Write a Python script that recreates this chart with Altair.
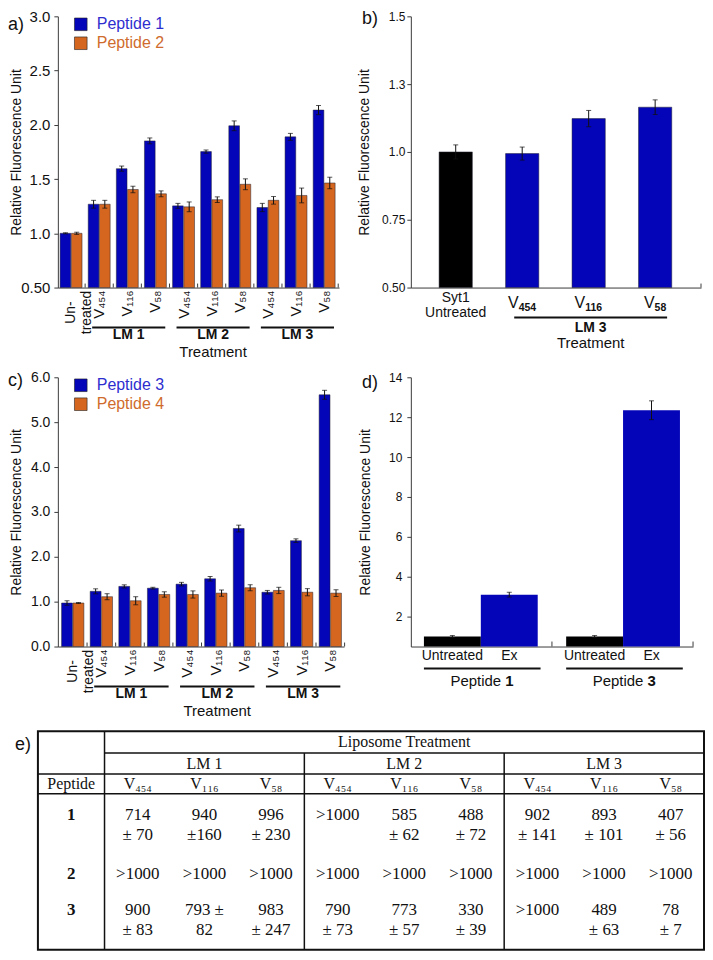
import altair as alt
import pandas as pd

SANS = "Liberation Sans"
SERIF = "Liberation Serif"
BLUE = "#0404b8"
ORANGE = "#d4661f"
BLUE_TXT = "#2e2ecf"
ORANGE_TXT = "#cf6b2d"
BLACK = "#000000"
INK = "#111111"
AXIS = "#3a3a3a"
BAR_EDGE = "#202030"

# ------------------------------------------------------------------ data
# x categories shared by panels a and c
treat_labels = ["Un-\ntreated", "V₄₅₄", "V₁₁₆", "V₅₈", "V₄₅₄", "V₁₁₆", "V₅₈", "V₄₅₄", "V₁₁₆", "V₅₈"]
treat_group = ["", "LM 1", "LM 1", "LM 1", "LM 2", "LM 2", "LM 2", "LM 3", "LM 3", "LM 3"]
lm_groups = ["LM 1", "LM 2", "LM 3"]

# panel a
a_series = ["Peptide 1", "Peptide 2"]
a_pep1 = [1.00, 1.268, 1.596, 1.852, 1.253, 1.753, 1.991, 1.238, 1.889, 2.136]
a_pep1_err = [0.005, 0.036, 0.024, 0.027, 0.023, 0.015, 0.045, 0.038, 0.032, 0.042]
a_pep2 = [1.00, 1.268, 1.404, 1.364, 1.244, 1.310, 1.452, 1.304, 1.349, 1.464]
a_pep2_err = [0.010, 0.036, 0.030, 0.027, 0.045, 0.026, 0.050, 0.035, 0.068, 0.053]
a_ticks = [0.5, 1.0, 1.5, 2.0, 2.5, 3.0]

# panel b
b_labels = ["Syt1\nUntreated", "V", "V", "V"]
b_subs = ["", "454", "116", "58"]
b_kind = ["Syt1", "LM 3", "LM 3", "LM 3"]
b_values = [1.000, 0.994, 1.123, 1.165]
b_errors = [0.026, 0.024, 0.030, 0.027]
b_ticks = [0.5, 0.75, 1.0, 1.25, 1.5]

# panel c
c_series = ["Peptide 3", "Peptide 4"]
c_pep3 = [0.97, 1.23, 1.34, 1.30, 1.39, 1.51, 2.63, 1.21, 2.36, 5.61]
c_pep3_err = [0.05, 0.056, 0.035, 0.02, 0.04, 0.05, 0.075, 0.04, 0.04, 0.10]
c_pep4 = [0.97, 1.11, 1.02, 1.16, 1.16, 1.19, 1.31, 1.25, 1.21, 1.19]
c_pep4_err = [0.01, 0.067, 0.09, 0.06, 0.08, 0.07, 0.067, 0.07, 0.08, 0.075]
c_ticks = [0, 1, 2, 3, 4, 5, 6]

# panel d
d_peptides = ["1", "3"]
d_conditions = ["Untreated", "Ex"]
d_values = [[1.0, 3.1], [1.0, 12.35]]
d_errors = [[0.05, 0.12], [0.05, 0.47]]
d_ticks = [2, 4, 6, 8, 10, 12, 14]

# table e
t_header = "Liposome Treatment"
t_row_title = "Peptide"
t_columns = ["V₄₅₄", "V₁₁₆", "V₅₈"] * 3
t_peptides = ["1", "2", "3"]
t_line1 = [["714", "940", "996", ">1000", "585", "488", "902", "893", "407"],
           [">1000"] * 9,
           ["900", "793 ±", "983", "790", "773", "330", ">1000", "489", "78"]]
t_line2 = [["± 70", "±160", "± 230", "", "± 62", "± 72", "± 141", "± 101", "± 56"],
           [""] * 9,
           ["± 83", "82", "± 247", "± 73", "± 57", "± 39", "", "± 63", "± 7"]]

ONE = pd.DataFrame({"k": [0]})

X_AXIS = alt.Axis(labels=False, ticks=False, title=None, grid=False, domainColor=AXIS)


def y_axis(values, fmt, title_x, label_size, label_pad):
    return alt.Axis(values=values, format=fmt, title="Relative Fluorescence Unit", titleX=title_x,
                    titleBaseline="middle", titleFontSize=14, titleFontWeight="normal", titleColor=INK,
                    labelFontSize=label_size, labelColor=INK, labelPadding=label_pad, tickSize=4,
                    tickColor=AXIS, domainColor=AXIS, grid=False)


def txt(text, x, y, size, **kw):
    props = dict(text=text, align="left", baseline="middle", fontSize=size, font=SANS, color=INK)
    props.update(kw)
    return alt.Chart(ONE).mark_text(**props).encode(x=alt.value(x), y=alt.value(y))


def legend(names, colors, tcolors, y0):
    out = []
    for k, (n, c, tc) in enumerate(zip(names, colors, tcolors)):
        y = y0 + 19 * k
        out.append(alt.Chart(ONE).mark_square(size=160, color=c, stroke="#222", strokeWidth=0.6,
                                              opacity=1).encode(x=alt.value(23), y=alt.value(y)))
        out.append(txt(n, 39, y, 16, color=tc))
    return out


def err_layers(df, X, Y):
    return [
        alt.Chart(df).mark_rule(color=INK, strokeWidth=1).encode(x=X("xc:Q"), y=Y("lo:Q"), y2="hi:Q"),
        alt.Chart(df).mark_tick(orient="horizontal", size=5, thickness=1, color=INK).encode(x=X("xc:Q"), y=Y("lo:Q")),
        alt.Chart(df).mark_tick(orient="horizontal", size=5, thickness=1, color=INK).encode(x=X("xc:Q"), y=Y("hi:Q")),
    ]


def grouped_panel(tag, tag_y, names, v1, e1, v2, e2, ydom, yvals, yfmt, ylab, ypad, title_x, xdom, H):
    n = len(v1)
    rows = []
    for i in range(n):
        for k, (vals, errs) in enumerate(((v1, e1), (v2, e2))):
            x0 = i - 0.39 if k == 0 else i + 0.01
            rows.append({"s": names[k], "col": [BLUE, ORANGE][k], "x0": x0, "x1": x0 + 0.38, "xc": x0 + 0.19,
                         "v": vals[i], "lo": vals[i] - errs[i], "hi": vals[i] + errs[i]})
    df = pd.DataFrame(rows)
    xs = alt.Scale(domain=xdom, nice=False, zero=False)
    ys = alt.Scale(domain=ydom, nice=False, zero=False)
    yax = y_axis(yvals, yfmt, title_x, ylab, ypad)

    def X(f):
        return alt.X(f, scale=xs, axis=X_AXIS)

    def Y(f):
        return alt.Y(f, scale=ys, axis=yax)

    layers = [alt.Chart(df).mark_bar(stroke=BAR_EDGE, strokeWidth=0.5).encode(
        x=X("x0:Q"), x2="x1:Q", y=Y("v:Q"), y2=alt.datum(ydom[0]),
        color=alt.Color("col:N", scale=None))]
    layers += err_layers(df, X, Y)
    tdf = pd.DataFrame({"t": [i + 0.5 for i in range(n)]})
    layers.append(alt.Chart(tdf).mark_rule(color=AXIS).encode(x=X("t:Q"), y=alt.value(H - 4), y2=alt.value(H)))
    ldf = pd.DataFrame({"i": list(range(1, n)), "t": treat_labels[1:]})
    layers.append(alt.Chart(ldf).mark_text(angle=270, align="right", baseline="middle", fontSize=15,
                                           font=SANS, color=INK).encode(x=X("i:Q"), y=alt.value(H + 3), text="t:N"))
    udf = pd.DataFrame({"i": [0], "t": [treat_labels[0]]})
    layers.append(alt.Chart(udf).mark_text(angle=270, align="center", baseline="middle", fontSize=14,
                                           lineBreak="\n", lineHeight=16, font=SANS, color=INK).encode(
        x=X("i:Q"), y=alt.value(H + 25), text="t:N"))
    s0 = [min(i for i in range(n) if treat_group[i] == g) - 0.25 for g in lm_groups]
    s1 = [max(i for i in range(n) if treat_group[i] == g) + 0.35 for g in lm_groups]
    gdf = pd.DataFrame({"name": lm_groups, "s0": s0, "s1": s1})
    gdf["m"] = (gdf["s0"] + gdf["s1"]) / 2
    layers.append(alt.Chart(gdf).mark_rule(color=INK, strokeWidth=2).encode(
        x=X("s0:Q"), x2="s1:Q", y=alt.value(H + 40)))
    layers.append(alt.Chart(gdf).mark_text(fontSize=14, fontWeight="bold", font=SANS, color=INK,
                                           baseline="middle").encode(x=X("m:Q"), y=alt.value(H + 48), text="name:N"))
    trt = pd.DataFrame({"m": [(min(s0) + max(s1)) / 2], "t": ["Treatment"]})
    layers.append(alt.Chart(trt).mark_text(fontSize=15, font=SANS, color=INK, baseline="middle").encode(
        x=X("m:Q"), y=alt.value(H + 65), text="t:N"))
    layers += legend(names, [BLUE, ORANGE], [BLUE_TXT, ORANGE_TXT], 8)
    layers.append(txt(tag, -50, tag_y, 18))
    return alt.layer(*layers)


def panel_b(W=291, H=272):
    n = len(b_values)
    df = pd.DataFrame({"i": list(range(n)), "k": b_kind, "v": b_values})
    df["col"] = [BLACK if k == "Syt1" else BLUE for k in b_kind]
    df["x0"] = df["i"] - 0.25
    df["x1"] = df["i"] + 0.25
    df["xc"] = df["i"]
    df["lo"] = [v - e for v, e in zip(b_values, b_errors)]
    df["hi"] = [v + e for v, e in zip(b_values, b_errors)]
    xdom = [-0.675, 3.69]
    xs = alt.Scale(domain=xdom, nice=False, zero=False)
    ys = alt.Scale(domain=[0.5, 1.5], nice=False, zero=False)
    yax = y_axis(b_ticks, ".2r", -46, 12, 2)

    def X(f):
        return alt.X(f, scale=xs, axis=X_AXIS)

    def Y(f):
        return alt.Y(f, scale=ys, axis=yax)

    layers = [alt.Chart(df).mark_bar(stroke=BAR_EDGE, strokeWidth=0.5).encode(
        x=X("x0:Q"), x2="x1:Q", y=Y("v:Q"), y2=alt.datum(0.5), color=alt.Color("col:N", scale=None))]
    layers += err_layers(df, X, Y)
    layers.append(alt.Chart(pd.DataFrame({"t": [xdom[1]]})).mark_rule(color=AXIS).encode(
        x=X("t:Q"), y=alt.value(H - 4), y2=alt.value(H)))
    first = pd.DataFrame({"i": [0], "t": [b_labels[0]]})
    layers.append(alt.Chart(first).mark_text(baseline="top", fontSize=14, lineBreak="\n", lineHeight=16,
                                             font=SANS, color=INK).encode(x=X("i:Q"), y=alt.value(H + 3), text="t:N"))
    for i in range(1, n):
        dx = (10.7 - 5.9 * len(b_subs[i])) / 2
        one = pd.DataFrame({"i": [i], "v": [b_labels[i]], "s": [b_subs[i]]})
        layers.append(alt.Chart(one).mark_text(align="right", baseline="alphabetic", dx=dx, fontSize=16,
                                               font=SANS, color=INK).encode(x=X("i:Q"), y=alt.value(H + 21), text="v:N"))
        layers.append(alt.Chart(one).mark_text(align="left", baseline="alphabetic", dx=dx, fontSize=10.5,
                                               fontWeight="bold", font=SANS, color=INK).encode(
            x=X("i:Q"), y=alt.value(H + 23.5), text="s:N"))
    grp = [i for i in range(n) if b_kind[i] == "LM 3"]
    gdf = pd.DataFrame({"s0": [min(grp) - 0.12], "s1": [max(grp) + 0.18], "name": ["LM 3"], "t": ["Treatment"]})
    gdf["m"] = (gdf["s0"] + gdf["s1"]) / 2
    layers.append(alt.Chart(gdf).mark_rule(color=INK, strokeWidth=2).encode(x=X("s0:Q"), x2="s1:Q", y=alt.value(H + 30)))
    layers.append(alt.Chart(gdf).mark_text(fontSize=14, fontWeight="bold", font=SANS, color=INK,
                                           baseline="middle").encode(x=X("m:Q"), y=alt.value(H + 41), text="name:N"))
    layers.append(alt.Chart(gdf).mark_text(fontSize=15, font=SANS, color=INK,
                                           baseline="middle").encode(x=X("m:Q"), y=alt.value(H + 56), text="t:N"))
    layers.append(txt("b)", -49, 3, 18))
    return alt.layer(*layers).properties(width=W, height=H)


def panel_d(W=283, H=270):
    rows = []
    for g, pep in enumerate(d_peptides):
        for j, cond in enumerate(d_conditions):
            p = g * 2.5 + j
            v, e = d_values[g][j], d_errors[g][j]
            rows.append({"pep": pep, "cond": cond, "col": [BLACK, BLUE][j], "xc": p, "x0": p - 0.5,
                         "x1": p + 0.5, "v": v, "lo": v - e, "hi": v + e})
    df = pd.DataFrame(rows)
    xdom = [-0.73, 4.23]
    xs = alt.Scale(domain=xdom, nice=False, zero=False)
    ys = alt.Scale(domain=[0.5, 14], nice=False, zero=False)
    yax = y_axis(d_ticks, "d", -45, 12, 5)

    def X(f):
        return alt.X(f, scale=xs, axis=X_AXIS)

    def Y(f):
        return alt.Y(f, scale=ys, axis=yax)

    layers = [alt.Chart(df).mark_bar().encode(
        x=X("x0:Q"), x2="x1:Q", y=Y("v:Q"), y2=alt.datum(0.5), color=alt.Color("col:N", scale=None))]
    layers += err_layers(df, X, Y)
    layers.append(alt.Chart(pd.DataFrame({"t": [1.75, xdom[1]]})).mark_rule(color=AXIS).encode(
        x=X("t:Q"), y=alt.value(H - 5), y2=alt.value(H)))
    layers.append(alt.Chart(df).mark_text(fontSize=14, font=SANS, color=INK, baseline="middle").encode(
        x=X("xc:Q"), y=alt.value(H + 10), text="cond:N"))
    gdf = df.groupby("pep", as_index=False).agg(s0=("x0", "min"), s1=("x1", "max"))
    gdf["s1"] = gdf["s1"] + 0.05
    gdf["m"] = (gdf["s0"] + gdf["s1"]) / 2
    gdf["word"] = "Peptide"
    layers.append(alt.Chart(gdf).mark_rule(color=INK, strokeWidth=2).encode(x=X("s0:Q"), x2="s1:Q", y=alt.value(H + 22)))
    layers.append(alt.Chart(gdf).mark_text(fontSize=15, font=SANS, color=INK, align="right", dx=19,
                                           baseline="middle").encode(x=X("m:Q"), y=alt.value(H + 35), text="word:N"))
    layers.append(alt.Chart(gdf).mark_text(fontSize=15, font=SANS, color=INK, align="left", dx=23, fontWeight="bold",
                                           baseline="middle").encode(x=X("m:Q"), y=alt.value(H + 35), text="pep:N"))
    layers.append(txt("d)", -49, 6, 18))
    return alt.layer(*layers).properties(width=W, height=H)


def table_e(x_range, y_range):
    # the table is drawn below panel c with scales of its own
    xs = alt.Scale(domain=[0, 10], range=x_range, nice=False, zero=False)
    ys = alt.Scale(domain=[0, 11], range=y_range, nice=False, zero=False)

    def X(f):
        return alt.X(f, scale=xs, axis=None)

    def Y(f):
        return alt.Y(f, scale=ys, axis=None)

    layers = []
    border = pd.DataFrame({"x0": [0], "x1": [10], "y0": [0], "y1": [11]})
    layers.append(alt.Chart(border).mark_rect(fillOpacity=0, stroke=INK, strokeWidth=2).encode(
        x=X("x0:Q"), x2="x1:Q", y=Y("y0:Q"), y2="y1:Q"))
    hl = pd.DataFrame({"x0": [1, 0, 0], "x1": [10, 10, 10], "y": [1.1, 2.15, 3.15]})
    layers.append(alt.Chart(hl).mark_rule(color=INK, strokeWidth=1.5).encode(x=X("x0:Q"), x2="x1:Q", y=Y("y:Q")))
    vl = pd.DataFrame({"x": [1, 4, 7], "y0": [0, 1.1, 1.1], "y1": [11, 11, 11]})
    layers.append(alt.Chart(vl).mark_rule(color=INK, strokeWidth=1.5).encode(x=X("x:Q"), y=Y("y0:Q"), y2="y1:Q"))

    head = pd.DataFrame({"x": [5.5, 2.5, 5.5, 8.5, 0.5], "y": [0.55, 1.63, 1.63, 1.63, 2.65],
                         "t": [t_header] + lm_groups + [t_row_title]})
    layers.append(alt.Chart(head).mark_text(font=SERIF, fontSize=16, color=INK, baseline="middle").encode(
        x=X("x:Q"), y=Y("y:Q"), text="t:N"))
    cols = pd.DataFrame({"x": [j + 1.5 for j in range(9)], "y": [2.65] * 9, "t": t_columns})
    layers.append(alt.Chart(cols).mark_text(font=SERIF, fontSize=16, color=INK, baseline="middle").encode(
        x=X("x:Q"), y=Y("y:Q"), text="t:N"))
    row_y = [4.2, 7.2, 9.0]
    pep = pd.DataFrame({"x": [0.5] * 3, "y": row_y, "t": t_peptides})
    layers.append(alt.Chart(pep).mark_text(font=SERIF, fontSize=17, fontWeight="bold", color=INK,
                                           baseline="middle").encode(x=X("x:Q"), y=Y("y:Q"), text="t:N"))
    cells = []
    for r in range(3):
        for j in range(9):
            cells.append({"x": j + 1.5, "y": row_y[r], "t": t_line1[r][j]})
            if t_line2[r][j]:
                cells.append({"x": j + 1.5, "y": row_y[r] + 1.02, "t": t_line2[r][j]})
    layers.append(alt.Chart(pd.DataFrame(cells)).mark_text(font=SERIF, fontSize=17, color=INK,
                                                           baseline="middle").encode(
        x=X("x:Q"), y=Y("y:Q"), text="t:N"))
    layers.append(txt("e)", x_range[0] - 23, y_range[0] + 14, 18))
    return alt.layer(*layers)


pa = grouped_panel("a)", 9, a_series, a_pep1, a_pep1_err, a_pep2, a_pep2_err, [0.5, 3.0], a_ticks, ".2r",
                   15, 4, -41, [-0.47, 9.53], 272).properties(width=282, height=272)
pc_main = grouped_panel("c)", 4, c_series, c_pep3, c_pep3_err, c_pep4, c_pep4_err, [0, 6], c_ticks, ".1f",
                        14, 4, -41, [-0.52, 9.48], 270)
pc = alt.layer(pc_main, table_e([-20, 648], [355, 574])).resolve_scale(
    x="independent", y="independent").properties(width=287, height=270)

chart = alt.concat(pa, panel_b(), pc, panel_d(), columns=2, spacing={"row": 90, "column": 67},
                   bounds="flush", align="each").properties(
    padding=0, background="white"
).configure_view(stroke=None).configure_axis(labelFont=SANS, titleFont=SANS).configure_text(font=SANS)

chart.save("out.html", embed_options={"renderer": "svg", "actions": False})
